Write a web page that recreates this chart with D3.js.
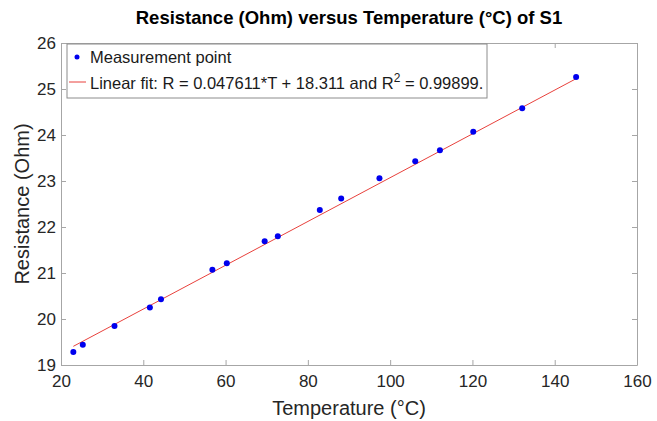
<!DOCTYPE html>
<html>
<head>
<meta charset="utf-8">
<script src="https://cdn.jsdelivr.net/npm/d3@7"></script>
<style>
  body { margin: 0; background: #fff; }
  text { font-family: "Liberation Sans", Arial, sans-serif; }
</style>
</head>
<body>
<svg id="chart"></svg>
<script>
// measured temperature (°C) and resistance (Ohm)
let temps = [23.0, 25.3, 33.0, 41.6, 44.3, 56.8, 60.3, 69.5, 72.7, 82.9, 88.1, 97.4, 106.1, 112.1, 120.2, 132.1, 145.2];
let resist = [19.28, 19.44, 19.85, 20.25, 20.43, 21.07, 21.21, 21.69, 21.80, 22.37, 22.62, 23.06, 23.43, 23.67, 24.07, 24.58, 25.26];

// linear fit coefficients
let slope = 0.047611, intercept = 18.311;
let fitRange = [23.0, 145.2];

let xTicks = [20, 40, 60, 80, 100, 120, 140, 160];
let yTicks = [19, 20, 21, 22, 23, 24, 25, 26];

let w = 657, h = 421;
let margin = { top: 43, right: 20, bottom: 56, left: 61 };

let svg = d3.select("#chart")
    .attr("width", w)
    .attr("height", h);

let xScale = d3.scaleLinear()
    .domain([20, 160])
    .range([margin.left, w - margin.right]);

let yScale = d3.scaleLinear()
    .domain([19, 26])
    .range([h - margin.bottom, margin.top]);

let axisColor = "#a6a6a6", labelColor = "#262626";

// bottom and left axes (ticks point inward like matlab)
let xAxis = d3.axisBottom(xScale).tickValues(xTicks).tickFormat(d3.format("d"))
    .tickSizeInner(-5).tickSizeOuter(0).tickPadding(10);
let yAxis = d3.axisLeft(yScale).tickValues(yTicks).tickFormat(d3.format("d"))
    .tickSizeInner(-5).tickSizeOuter(0).tickPadding(5);

let gx = svg.append("g")
    .attr("transform", "translate(0," + (h - margin.bottom) + ")")
    .call(xAxis);
let gy = svg.append("g")
    .attr("transform", "translate(" + margin.left + ",0)")
    .call(yAxis);

// top and right ticks, no labels
let gxTop = svg.append("g")
    .attr("transform", "translate(0," + margin.top + ")")
    .call(d3.axisTop(xScale).tickValues(xTicks).tickSizeInner(-5).tickSizeOuter(0).tickFormat(""));
let gyRight = svg.append("g")
    .attr("transform", "translate(" + (w - margin.right) + ",0)")
    .call(d3.axisRight(yScale).tickValues(yTicks).tickSizeInner(-5).tickSizeOuter(0).tickFormat(""));

[gx, gy, gxTop, gyRight].forEach(function (g) {
    g.selectAll("path, line").attr("stroke", axisColor);
    g.selectAll("text")
        .attr("fill", labelColor)
        .style("font-size", "17px")
        .style("font-family", "Liberation Sans, Arial, sans-serif");
});

// fit line
let fitPts = fitRange.map(function (t) { return [t, slope * t + intercept]; });
svg.append("line")
    .attr("x1", xScale(fitPts[0][0]))
    .attr("y1", yScale(fitPts[0][1]))
    .attr("x2", xScale(fitPts[1][0]))
    .attr("y2", yScale(fitPts[1][1]))
    .attr("stroke", "#e8413c")
    .attr("stroke-width", 1);

// measurement points
svg.selectAll("circle.pt")
    .data(temps)
    .enter()
    .append("circle")
    .attr("class", "pt")
    .attr("cx", function (d) { return xScale(d); })
    .attr("cy", function (d, i) { return yScale(resist[i]); })
    .attr("r", 3)
    .attr("fill", "#0000ee");

// legend
let lg = svg.append("g").attr("transform", "translate(67,44)");
lg.append("rect")
    .attr("width", 420)
    .attr("height", 54)
    .attr("fill", "#fff")
    .attr("stroke", "#8c8c8c")
    .attr("stroke-width", 1);
lg.append("circle")
    .attr("cx", 10).attr("cy", 13).attr("r", 2.5)
    .attr("fill", "#0000ee");
lg.append("text")
    .attr("x", 23).attr("y", 19)
    .attr("fill", "#1a1a1a")
    .style("font-size", "16.5px")
    .text("Measurement point");
lg.append("line")
    .attr("x1", 2).attr("x2", 19)
    .attr("y1", 38).attr("y2", 38)
    .attr("stroke", "#e8413c");
let fitText = lg.append("text")
    .attr("x", 23).attr("y", 45)
    .attr("fill", "#1a1a1a")
    .style("font-size", "16.5px");
fitText.append("tspan").text("Linear fit: R = " + slope + "*T + " + intercept + " and R");
fitText.append("tspan").attr("dy", -7).style("font-size", "12px").text("2");
fitText.append("tspan").attr("dy", 7).text(" = 0.99899.");

// title and axis labels
svg.append("text")
    .attr("x", (margin.left + w - margin.right) / 2)
    .attr("y", 24)
    .attr("text-anchor", "middle")
    .attr("fill", "#000")
    .style("font-size", "18.5px")
    .style("font-weight", "bold")
    .text("Resistance (Ohm) versus Temperature (°C) of S1");

svg.append("text")
    .attr("x", (margin.left + w - margin.right) / 2)
    .attr("y", 415)
    .attr("text-anchor", "middle")
    .attr("fill", labelColor)
    .style("font-size", "20px")
    .text("Temperature (°C)");

svg.append("text")
    .attr("transform", "translate(29," + ((margin.top + h - margin.bottom) / 2) + ") rotate(-90)")
    .attr("text-anchor", "middle")
    .attr("fill", labelColor)
    .style("font-size", "20px")
    .text("Resistance (Ohm)");
</script>
</body>
</html>
